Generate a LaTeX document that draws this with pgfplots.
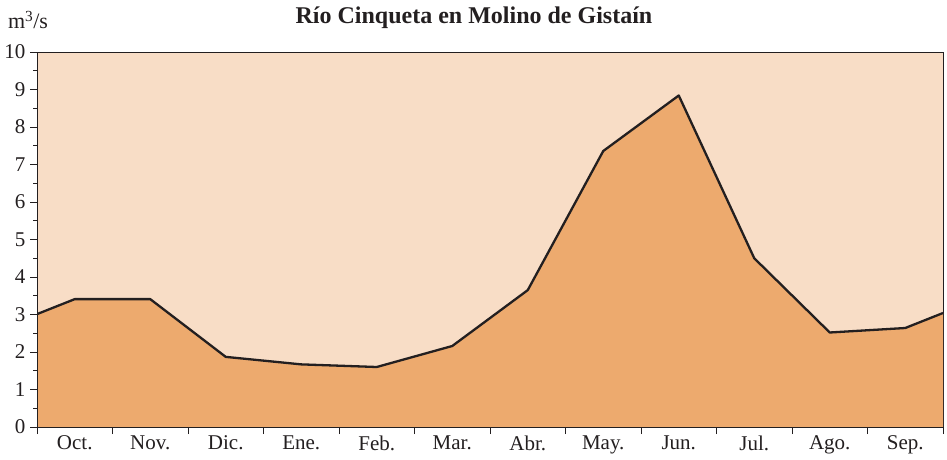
\documentclass[border=0pt]{standalone}
\usepackage{pgfplots}
\pgfplotsset{compat=1.18}
\usepackage{fontspec}
\setmainfont{Liberation Serif}
\definecolor{bgpeach}{HTML}{F8DDC6}
\definecolor{areaorange}{HTML}{EDAA6E}
\definecolor{linedark}{HTML}{231F20}
\begin{document}
\begin{tikzpicture}
\begin{axis}[
  scale only axis,
  width=906pt, height=375pt,
  at={(0,0)}, anchor=south west,
  xmin=0, xmax=12, ymin=0, ymax=10,
  axis background/.style={fill=bgpeach},
  axis line style={linedark, line width=1pt},
  xtick={0,1,...,12},
  xticklabels={},
  extra x ticks={0.5,1.5,...,11.5},
  extra x tick labels={Oct.,Nov.,Dic.,Ene.,Feb.,Mar.,Abr.,May.,Jun.,Jul.,Ago.,Sep.},
  extra x tick style={tick style={draw=none}},
  ytick={0,1,...,10},
  minor ytick={0.5,1.5,...,9.5},
  xtick pos=bottom, ytick pos=left,
  tick align=outside,
  tick style={draw=linedark, line width=1pt},
  major tick length=7pt,
  minor tick length=4pt,
  ticklabel style={font=\fontsize{21}{24}\selectfont, text=linedark},
  /pgf/number format/assume math mode=true,
  yticklabel style={xshift=-1pt},
  xticklabel style={yshift=2pt},
]
\addplot[fill=areaorange, draw=none] coordinates {
  (0,3.01) (0.5,3.41) (1.5,3.41) (2.5,1.87) (3.5,1.67) (4.5,1.6) (5.5,2.16)
  (6.5,3.65) (7.5,7.36) (8.5,8.84) (9.5,4.5) (10.5,2.52) (11.5,2.64) (12,3.04)
} \closedcycle;
\addplot[linedark, line width=2.3pt, line join=round] coordinates {
  (0,3.01) (0.5,3.41) (1.5,3.41) (2.5,1.87) (3.5,1.67) (4.5,1.6) (5.5,2.16)
  (6.5,3.65) (7.5,7.36) (8.5,8.84) (9.5,4.5) (10.5,2.52) (11.5,2.64) (12,3.04)
};
\draw[linedark, line width=1pt] (rel axis cs:0,0) rectangle (rel axis cs:1,1);
\end{axis}
\node[font=\fontsize{24}{28}\selectfont\bfseries, text=linedark] at (437pt,409pt) {Río Cinqueta en Molino de Gistaín};
\node[font=\fontsize{22}{26}\selectfont, text=linedark] at (-9pt,407pt) {m\textsuperscript{3}/s};
\pgfresetboundingbox
\path[use as bounding box] (-37pt,-32pt) rectangle (910pt,427pt);
\end{tikzpicture}
\end{document}
